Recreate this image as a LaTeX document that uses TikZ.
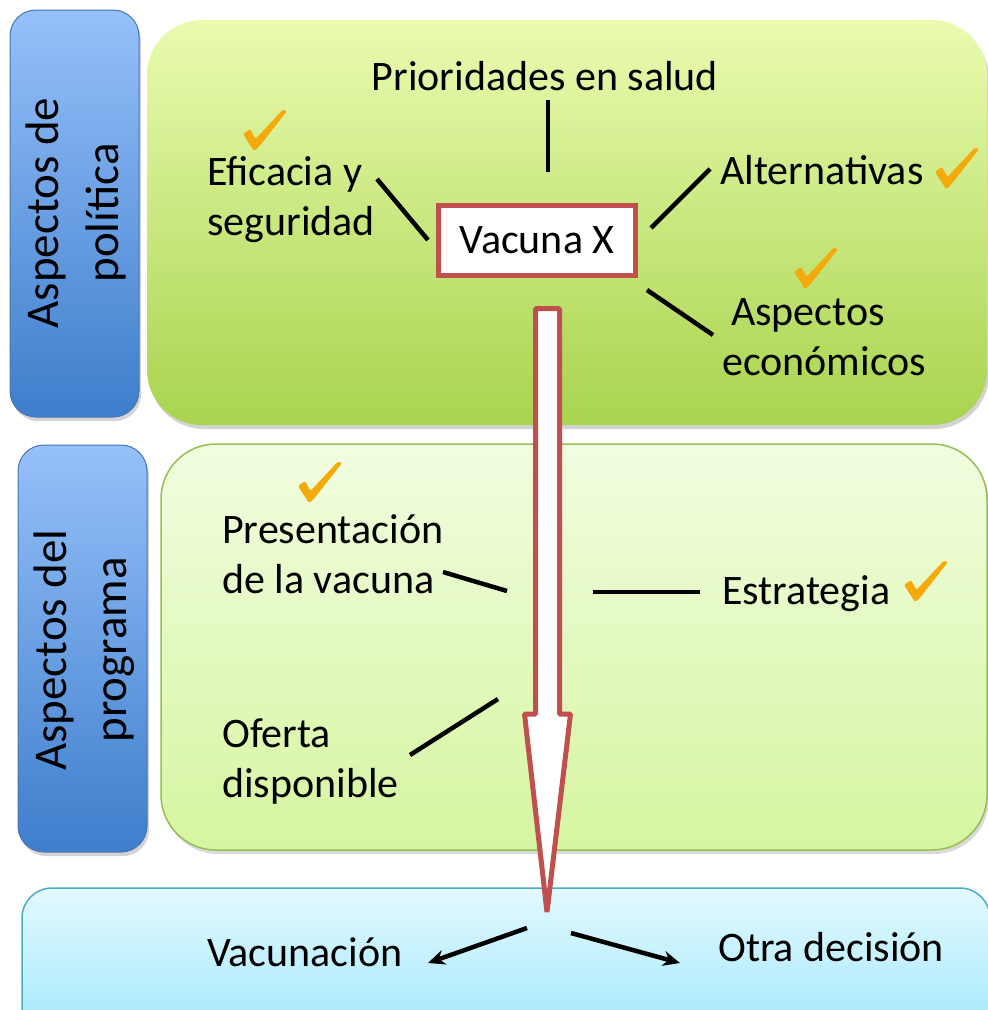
\documentclass[tikz,border=0pt]{standalone}
\usepackage{fontspec}
\setmainfont{Carlito}
\usetikzlibrary{arrows.meta,shadows}
\definecolor{bartop}{RGB}{150,192,250}
\definecolor{barbot}{RGB}{62,126,204}
\definecolor{barline}{RGB}{70,118,182}
\definecolor{poltop}{RGB}{234,251,176}
\definecolor{polbot}{RGB}{168,212,78}
\definecolor{progtop}{RGB}{241,253,224}
\definecolor{progbot}{RGB}{214,245,160}
\definecolor{progline}{RGB}{150,190,85}
\definecolor{dectop}{RGB}{226,249,255}
\definecolor{decbot}{RGB}{162,232,251}
\definecolor{decline}{RGB}{75,172,198}
\definecolor{vacred}{RGB}{192,80,77}
\definecolor{chkorange}{RGB}{244,170,10}
\tikzset{>={Stealth[length=17pt,width=15pt]},
  sidebar/.style={rounded corners=26pt,draw=barline,line width=1pt,top color=bartop,bottom color=barbot,
    drop shadow={shadow xshift=2pt,shadow yshift=-4pt,opacity=0.35}},
  polbox/.style={rounded corners=55pt,top color=poltop,bottom color=polbot,
    drop shadow={shadow xshift=2pt,shadow yshift=-4pt,opacity=0.35}},
  progbox/.style={rounded corners=55pt,draw=progline,line width=1.5pt,top color=progtop,bottom color=progbot,
    drop shadow={shadow xshift=2pt,shadow yshift=-4pt,opacity=0.3}},
  decbox/.style={rounded corners=30pt,draw=decline,line width=1.5pt,top color=dectop,bottom color=decbot},
  sidetext/.style={rotate=90,align=center,inner sep=0pt,font=\fontsize{47}{60}\selectfont},
  lbl/.style={inner sep=0pt,align=left,font=\fontsize{42}{50}\selectfont},
  hub/.style={draw=vacred,line width=5pt,fill=white,minimum width=197pt,minimum height=70pt,inner sep=0pt,
    font=\fontsize{42}{50}\selectfont},
  chkmark/.pic={\fill[chkorange,rounded corners=1.5pt]
    (0,25) -- (7,20) -- (12.5,30) -- (40,0.5) -- (44,2) -- (15,39) -- (11,42) -- cycle;},
  link/.style={line width=4.5pt},
  decision/.style={line width=4.5pt,->}}

\begin{document}
\begin{tikzpicture}[x=1pt,y=-1pt]
  \useasboundingbox (0,0) rectangle (988,1010);
  % background panels
  \path[sidebar] (10,10) rectangle (139,417);
  \path[polbox] (147,20) rectangle (987,425);
  \path[sidebar] (18,445) rectangle (147,852);
  \path[progbox] (161,444) rectangle (987,850);
  \path[decbox] (22,888) rectangle (990,1040);
  \node[sidetext] (pol) at (76,213) {Aspectos de\\política};
  \node[sidetext] (prog) at (84,650) {Aspectos del\\programa};

  % policy aspects
  \node[hub] (vac) at (537,240.5) {Vacuna X};
  \node[lbl,anchor=base] (prio) at (545,90) {Prioridades en salud};
  \node[lbl,anchor=base west] (efi) at (207,235) {Eficacia y\\seguridad};
  \node[lbl,anchor=base west] (alt) at (720,184) {Alternativas};
  \node[lbl,anchor=base west] (eco) at (722,375) {\hspace*{9pt}Aspectos\\económicos};
  \coordinate (prioA) at (548,100);  \coordinate (prioB) at (548,172);
  \coordinate (efiA) at (377,179);   \coordinate (efiB) at (428,240);
  \coordinate (altA) at (651,228);   \coordinate (altB) at (710,169);
  \coordinate (ecoA) at (647,290);   \coordinate (ecoB) at (713,335);
  \draw[link] (prioA) -- (prioB);
  \draw[link] (efiA) -- (efiB);
  \draw[link] (altA) -- (altB);
  \draw[link] (ecoA) -- (ecoB);

  % programme aspects
  \node[lbl,anchor=base west] (pres) at (222,593) {Presentación\\de la vacuna};
  \node[lbl,anchor=base west] (estr) at (722,604) {Estrategia};
  \node[lbl,anchor=base west] (ofe) at (222,797) {Oferta\\disponible};
  \coordinate (presA) at (443,572);  \coordinate (presB) at (507,591);
  \coordinate (estrA) at (593,592);  \coordinate (estrB) at (700,592);
  \coordinate (ofeA) at (410,755);   \coordinate (ofeB) at (498,699);
  \draw[link] (presA) -- (presB);
  \draw[link] (estrA) -- (estrB);
  \draw[link] (ofeA) -- (ofeB);

  % checks
  \pic at (243,109) {chkmark};
  \pic at (935,147) {chkmark};
  \pic at (794,247) {chkmark};
  \pic at (298,461) {chkmark};
  \pic at (904,560) {chkmark};

  % big arrow
  \draw[vacred,line width=5pt,fill=white,line join=bevel]
    (535.5,308.5) -- (535.5,714) -- (524.5,714) -- (547,912) -- (570.5,714) -- (559.5,714) -- (559.5,308.5) -- cycle;

  % decision
  \node[lbl,anchor=base west] (vacu) at (207,966) {Vacunación};
  \node[lbl,anchor=base west] (otra) at (718,961) {Otra decisión};
  \coordinate (vacuA) at (527,928);  \coordinate (vacuB) at (428,963);
  \coordinate (otraA) at (571,933);  \coordinate (otraB) at (680,963);
  \draw[decision] (vacuA) -- (vacuB);
  \draw[decision] (otraA) -- (otraB);
\end{tikzpicture}
\end{document}
